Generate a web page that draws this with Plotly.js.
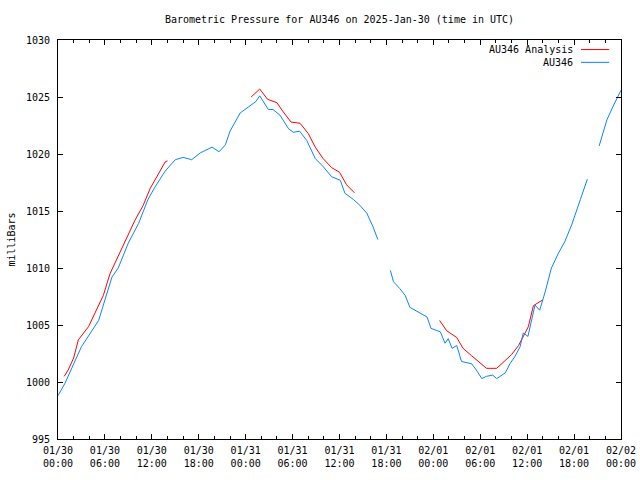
<!DOCTYPE html>
<html>
<head>
<meta charset="utf-8">
<script src="https://cdn.plot.ly/plotly-3.0.1.min.js"></script>
<style>html,body{margin:0;padding:0;background:#fff;}#chart{width:640px;height:480px;}</style>
</head>
<body>
<div id="chart"></div>
<script>
// Hours since 2025-01-30 00:00 UTC
const obsHours = [0.0,0.9,3.0,4.3,5.2,6.0,6.9,7.7,9.0,10.3,11.5,12.4,13.7,15.0,16.0,17.1,18.2,19.7,20.6,21.4,22.0,23.3,24.6,25.3,25.8,26.9,27.5,28.4,29.5,30.1,30.9,31.8,32.9,33.9,35.0,36.1,36.7,37.8,38.6,39.5,40.3,40.9,41.7,42.5,42.9,43.7,44.4,45.0,46.1,47.2,47.7,48.9,49.5,49.9,50.4,51.0,51.6,52.1,52.9,53.5,54.2,54.8,55.6,56.1,56.7,57.2,57.8,58.4,59.1,59.5,60.1,60.6,61.0,61.6,62.0,62.3,63.1,64.0,64.8,65.7,66.8,67.7,68.5,69.2,70.2,71.0,72.0];
const obsPressure = [998.8,999.9,1003.1,1004.4,1005.4,1007.2,1009.2,1010.0,1012.2,1013.9,1016.0,1017.1,1018.5,1019.5,1019.7,1019.5,1020.1,1020.6,1020.2,1020.8,1022.0,1023.6,1024.3,1024.6,1025.1,1023.9,1023.9,1023.4,1022.2,1021.9,1022.0,1021.2,1019.6,1018.9,1018.0,1017.7,1016.55,1016.0,1015.5,1014.8,1013.6,1012.5,null,1009.8,1008.8,1008.2,1007.6,1006.55,1006.1,1005.7,1004.7,1004.4,1003.4,1003.8,1002.95,1003.2,1001.8,1001.7,1001.6,1001.05,1000.3,1000.5,1000.6,1000.3,1000.6,1000.8,1001.6,1002.2,1003.1,1004.3,1004.0,1005.7,1006.75,1006.3,1007.2,1007.9,1010.0,1011.3,1012.3,1013.8,1016.0,1017.8,null,1020.7,1023.0,1024.2,1025.6];

const anaHours = [0.8,1.3,2.0,2.6,3.9,4.7,5.8,6.65,7.7,8.8,9.85,10.9,11.8,12.8,13.7,14.0,19.0,24.7,25.8,26.8,28.0,28.8,29.8,30.95,32.0,32.9,33.9,35.0,36.0,36.9,37.9,43.0,48.8,49.7,51.0,51.8,52.9,53.75,54.8,56.1,56.95,58.0,58.9,59.7,60.15,60.8,61.55,62.0];
const anaPressure = [1000.5,1001.05,1002.1,1003.7,1004.85,1006.0,1007.6,1009.5,1011.0,1012.6,1014.2,1015.5,1017.0,1018.2,1019.3,1019.4,null,1025.0,1025.7,1024.8,1024.5,1023.7,1022.8,1022.7,1021.8,1020.6,1019.6,1018.8,1018.4,1017.3,1016.6,null,1005.4,1004.5,1003.9,1002.95,1002.3,1001.8,1001.2,1001.2,1001.7,1002.4,1003.2,1004.3,1004.85,1006.7,1007.0,1007.2];

const xTickVals = [0,6,12,18,24,30,36,42,48,54,60,66,72];
const xTickText = ["01/30<br>00:00","01/30<br>06:00","01/30<br>12:00","01/30<br>18:00","01/31<br>00:00","01/31<br>06:00","01/31<br>12:00","01/31<br>18:00","02/01<br>00:00","02/01<br>06:00","02/01<br>12:00","02/01<br>18:00","02/02<br>00:00"];
const yTickVals = [995,1000,1005,1010,1015,1020,1025,1030];

const seriesNames = ["AU346 Analysis","AU346"];
const seriesColors = ["#ff0000","#0a84ff"];

const FONT = "DejaVu Sans Mono, Liberation Mono, monospace";
const FS = 10;

const traces = [
  {x: anaHours, y: anaPressure, name: seriesNames[0], mode: 'lines', connectgaps: false,
   line: {color: seriesColors[0], width: 1}, showlegend: false, hoverinfo: 'skip'},
  {x: obsHours, y: obsPressure, name: seriesNames[1], mode: 'lines', connectgaps: false,
   line: {color: seriesColors[1], width: 1}, showlegend: false, hoverinfo: 'skip'}
];

const legendY = [0.976, 0.944];
const annotations = [];
const shapes = [];
seriesNames.forEach((n, i) => {
  annotations.push({xref: 'paper', yref: 'paper', x: 0.918, y: legendY[i], xanchor: 'right', yanchor: 'middle',
    text: n, showarrow: false, font: {family: FONT, size: FS, color: '#000'}});
  shapes.push({type: 'line', xref: 'paper', yref: 'paper', x0: 0.929, x1: 0.979, y0: legendY[i], y1: legendY[i],
    line: {color: seriesColors[i], width: 1}});
});

const layout = {
  width: 640, height: 480,
  margin: {l: 58, r: 19, t: 40, b: 41},
  paper_bgcolor: '#fff', plot_bgcolor: '#fff',
  font: {family: FONT, size: FS, color: '#000'},
  title: {text: 'Barometric Pressure for AU346 on 2025-Jan-30 (time in UTC)', x: 0.5, xref: 'paper',
          y: 0.96, yref: 'container', yanchor: 'middle', font: {family: FONT, size: FS, color: '#000'}},
  xaxis: {range: [0, 72], tickmode: 'array', tickvals: xTickVals, ticktext: xTickText,
          ticks: 'inside', ticklen: 5, tickcolor: '#000', showgrid: false, zeroline: false,
          showline: true, linecolor: '#000', linewidth: 1, mirror: 'allticks',
          minor: {tickmode: 'linear', tick0: 0, dtick: 2, ticks: 'inside', ticklen: 3, tickcolor: '#000', showgrid: false},
          tickfont: {family: FONT, size: FS}, ticklabelstandoff: 2, fixedrange: true},
  yaxis: {range: [995, 1030], tickmode: 'array', tickvals: yTickVals,
          ticks: 'inside', ticklen: 5, tickcolor: '#000', showgrid: false, zeroline: false,
          showline: true, linecolor: '#000', linewidth: 1, mirror: 'allticks',
          tickfont: {family: FONT, size: FS}, ticklabelstandoff: 5,
          title: {text: 'milliBars', font: {family: FONT, size: FS}, standoff: 8}, fixedrange: true},
  annotations: annotations,
  shapes: shapes
};

Plotly.newPlot('chart', traces, layout, {displayModeBar: false, staticPlot: true});
</script>
</body>
</html>
